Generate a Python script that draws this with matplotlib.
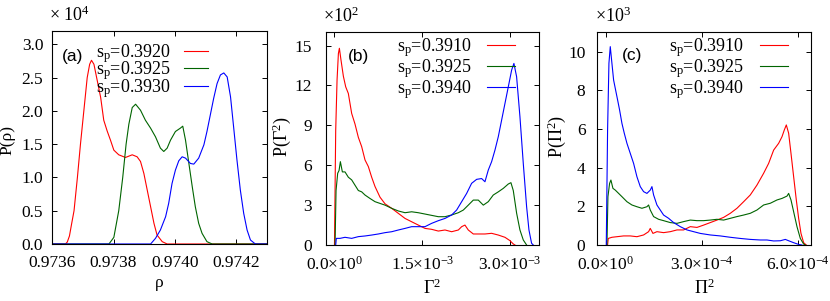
"""
三面板分佈圖: P(rho), P(Gamma^2), P(Pi^2)
"""
import numpy as np
import matplotlib
matplotlib.use('Agg')
import matplotlib.pyplot as plt

plt.rcParams['font.family'] = ['Liberation Serif', 'DejaVu Serif']
plt.rcParams['mathtext.fontset'] = 'custom'
plt.rcParams['mathtext.rm'] = 'Liberation Serif'
plt.rcParams['mathtext.it'] = 'Liberation Serif:italic'
plt.rcParams['mathtext.bf'] = 'Liberation Serif:bold'

RED, GREEN, BLUE = '#ff0000', '#006400', '#0000ff'

# ---- (a) P(rho), y in units of 1e4 ----
rho_labels = ['s$_\\mathrm{p}$=0.3920', 's$_\\mathrm{p}$=0.3925', 's$_\\mathrm{p}$=0.3930']
rho_r = [0.973600, 0.973643, 0.973649, 0.973656, 0.973663, 0.973671, 0.973682, 0.973692,
         0.973703, 0.973714, 0.973722, 0.973728, 0.973736, 0.973747, 0.973758, 0.973768,
         0.973779, 0.973790, 0.973801, 0.973817, 0.973839, 0.973861, 0.973877, 0.973888,
         0.973899, 0.973910, 0.973921, 0.973932, 0.973942, 0.973959, 0.973975, 0.974300]
p_rho_r = [0.0, 0.0, 0.03, 0.12, 0.3, 0.5, 1.0, 1.5, 2.0, 2.5, 2.7, 2.76, 2.70, 2.45,
           2.2, 1.86, 1.70, 1.56, 1.41, 1.34, 1.30, 1.34, 1.31, 1.24, 1.06, 0.81, 0.56,
           0.31, 0.135, 0.035, 0.0, 0.0]
rho_g = [0.973600, 0.973785, 0.973801, 0.973817, 0.973830, 0.973841, 0.973850, 0.973861,
         0.973872, 0.973888, 0.973904, 0.973921, 0.973937, 0.973953, 0.973964, 0.973975,
         0.973986, 0.974002, 0.974018, 0.974026, 0.974035, 0.974046, 0.974057, 0.974067,
         0.974078, 0.974089, 0.974105, 0.974122, 0.974300]
p_rho_g = [0.0, 0.0, 0.1, 0.5, 1.0, 1.5, 1.8, 2.05, 2.10, 2.01, 1.86, 1.74, 1.61, 1.44,
           1.39, 1.44, 1.56, 1.69, 1.74, 1.77, 1.56, 1.21, 0.86, 0.56, 0.31, 0.16, 0.035,
           0.0, 0.0]
rho_b = [0.973600, 0.973921, 0.973937, 0.973953, 0.973970, 0.973980, 0.973991, 0.974002,
         0.974013, 0.974024, 0.974035, 0.974051, 0.974062, 0.974078, 0.974095, 0.974105,
         0.974116, 0.974127, 0.974138, 0.974149, 0.974160, 0.974171, 0.974182, 0.974192,
         0.974203, 0.974214, 0.974225, 0.974236, 0.974247, 0.974263, 0.974300]
p_rho_b = [0.0, 0.0, 0.085, 0.21, 0.41, 0.61, 0.91, 1.11, 1.25, 1.31, 1.29, 1.21, 1.20,
           1.29, 1.49, 1.69, 1.94, 2.19, 2.41, 2.54, 2.57, 2.51, 2.21, 1.76, 1.26, 0.81,
           0.46, 0.21, 0.06, 0.0, 0.0]

# ---- (b) P(Gamma^2), x in units of 1e-3, y in units of 1e2 ----
gam_labels = ['s$_\\mathrm{p}$=0.3910', 's$_\\mathrm{p}$=0.3925', 's$_\\mathrm{p}$=0.3940']
gam_r = [0.0, 0.021, 0.044, 0.067, 0.084, 0.112, 0.152, 0.192, 0.237, 0.294, 0.351, 0.408,
         0.465, 0.522, 0.579, 0.636, 0.693, 0.778, 0.864, 0.978, 1.092, 1.206, 1.319,
         1.433, 1.547, 1.661, 1.775, 1.889, 2.003, 2.117, 2.174, 2.230, 2.287, 2.373,
         2.458, 2.572, 2.686, 2.800, 2.914, 2.999, 3.056, 3.085]
p_gam_r = [0.0, 8.6, 12.4, 14.4, 14.8, 13.9, 12.7, 11.9, 11.4, 9.9, 9.1, 8.1, 7.4, 6.4,
           5.9, 5.1, 4.4, 3.6, 3.1, 2.76, 2.38, 2.0, 1.75, 1.5, 1.25, 1.18, 1.05, 1.13,
           1.0, 1.13, 1.38, 1.5, 1.13, 0.83, 0.83, 0.83, 0.88, 0.75, 0.58, 0.33, 0.08, 0.0]
gam_g = [0.010, 0.027, 0.055, 0.078, 0.101, 0.135, 0.180, 0.237, 0.294, 0.351, 0.408,
         0.465, 0.522, 0.608, 0.693, 0.778, 0.864, 0.978, 1.092, 1.206, 1.319, 1.433,
         1.547, 1.661, 1.775, 1.889, 2.003, 2.117, 2.202, 2.287, 2.373, 2.458, 2.544,
         2.629, 2.714, 2.800, 2.885, 2.971, 3.016, 3.056, 3.113, 3.170, 3.227, 3.284]
p_gam_g = [0.0, 4.1, 5.4, 5.6, 6.27, 5.5, 5.5, 5.1, 4.9, 4.5, 4.1, 4.0, 3.76, 3.5, 3.26,
           3.13, 3.0, 2.76, 2.56, 2.43, 2.5, 2.43, 2.33, 2.23, 2.13, 2.13, 2.26, 2.43,
           2.63, 3.0, 3.38, 3.38, 3.0, 3.26, 3.76, 4.0, 4.26, 4.59, 4.69, 4.1, 2.4, 1.13,
           0.38, 0.0]
gam_b = [0.021, 0.032, 0.095, 0.180, 0.294, 0.408, 0.522, 0.636, 0.750, 0.864, 0.978,
         1.092, 1.206, 1.319, 1.433, 1.547, 1.661, 1.775, 1.889, 2.003, 2.088, 2.174,
         2.259, 2.344, 2.430, 2.515, 2.572, 2.629, 2.686, 2.743, 2.800, 2.857, 2.914,
         2.971, 3.028, 3.067, 3.113, 3.170, 3.227, 3.284, 3.324, 3.369, 3.398]
p_gam_b = [0.0, 0.5, 0.5, 0.58, 0.5, 0.63, 0.68, 0.75, 0.83, 0.93, 1.0, 1.13, 1.25, 1.38,
           1.38, 1.38, 1.63, 1.83, 2.0, 2.26, 2.63, 3.26, 3.88, 4.64, 4.94, 5.0, 4.76,
           5.64, 6.27, 7.14, 8.15, 9.4, 10.65, 11.9, 13.16, 13.66, 12.66, 9.65, 6.14,
           2.88, 1.13, 0.13, 0.0]

# ---- (c) P(Pi^2), x in units of 1e-4, y in units of 1e3 ----
pi_labels = ['s$_\\mathrm{p}$=0.3910', 's$_\\mathrm{p}$=0.3925', 's$_\\mathrm{p}$=0.3940']
pi_r = [0.062, 0.083, 0.198, 0.354, 0.562, 0.770, 0.978, 1.186, 1.342, 1.394, 1.478,
        1.602, 1.810, 2.019, 2.227, 2.435, 2.643, 2.851, 3.059, 3.267, 3.476, 3.684,
        3.892, 4.100, 4.308, 4.516, 4.724, 4.932, 5.088, 5.245, 5.401, 5.505, 5.578,
        5.640, 5.713, 5.786, 5.869, 5.952, 6.025, 6.098, 6.181, 6.264]
p_pi_r = [0.0, 0.34, 0.40, 0.43, 0.47, 0.47, 0.43, 0.52, 0.69, 0.86, 0.60, 0.69, 0.64,
          0.69, 0.78, 0.78, 0.95, 0.91, 1.03, 1.16, 1.29, 1.43, 1.64, 1.90, 2.24, 2.59,
          3.10, 3.71, 4.22, 4.91, 5.26, 5.60, 5.95, 6.21, 5.78, 4.74, 3.53, 2.33, 1.38,
          0.60, 0.12, 0.0]
pi_g = [0.042, 0.073, 0.125, 0.166, 0.229, 0.302, 0.406, 0.510, 0.666, 0.822, 0.978,
        1.134, 1.290, 1.342, 1.394, 1.498, 1.654, 1.810, 2.019, 2.227, 2.435, 2.643,
        2.851, 3.059, 3.267, 3.476, 3.684, 3.892, 4.100, 4.308, 4.516, 4.724, 4.932,
        5.141, 5.349, 5.505, 5.661, 5.713, 5.786, 5.869, 5.973, 6.077, 6.181, 6.233]
p_pi_g = [0.0, 2.5, 3.19, 3.36, 2.93, 2.84, 2.67, 2.5, 2.24, 2.07, 1.98, 1.90, 1.98, 2.07,
          1.81, 1.47, 1.33, 1.26, 1.16, 1.12, 1.21, 1.29, 1.26, 1.26, 1.29, 1.33, 1.29,
          1.38, 1.47, 1.55, 1.64, 1.81, 2.07, 2.16, 2.33, 2.41, 2.53, 2.67, 2.33, 1.72,
          0.95, 0.34, 0.05, 0.0]
pi_b = [0.021, 0.062, 0.104, 0.146, 0.187, 0.250, 0.302, 0.375, 0.437, 0.510, 0.583,
        0.666, 0.770, 0.874, 0.978, 1.082, 1.186, 1.290, 1.394, 1.446, 1.498, 1.602,
        1.706, 1.810, 1.967, 2.123, 2.331, 2.539, 2.747, 2.955, 3.267, 3.580, 3.892,
        4.204, 4.516, 4.828, 5.036, 5.245, 5.453, 5.609, 5.713, 5.869, 6.025, 6.129]
p_pi_b = [0.0, 5.95, 9.4, 10.26, 9.57, 8.53, 8.1, 7.5, 6.98, 6.29, 5.78, 5.26, 4.74,
          4.22, 3.53, 3.02, 2.76, 2.67, 2.84, 3.02, 2.59, 2.07, 1.81, 1.55, 1.38, 1.16,
          0.95, 0.78, 0.69, 0.60, 0.52, 0.47, 0.40, 0.34, 0.29, 0.26, 0.26, 0.21, 0.22,
          0.29, 0.22, 0.12, 0.03, 0.0]

# tick values and labels
rho_xticks = [0.9736, 0.9738, 0.9740, 0.9742]
rho_yticks = [0.0, 0.5, 1.0, 1.5, 2.0, 2.5, 3.0]
gam_xticks = [0.0, 1.5e-3, 3.0e-3]
gam_xticklabels = ['0.0×10$^{0}$', '1.5×10$^{-3}$', '3.0×10$^{-3}$']
gam_yticks = [0, 3, 6, 9, 12, 15]
pi_xticks = [0.0, 3.0e-4, 6.0e-4]
pi_xticklabels = ['0.0×10$^{0}$', '3.0×10$^{-4}$', '6.0×10$^{-4}$']
pi_yticks = [0, 2, 4, 6, 8, 10]

FS = 12.5
LFS = 13


def style_axis(ax, ypad):
    for sp in ax.spines.values():
        sp.set_linewidth(0.8)
    ax.tick_params(direction='in', length=3.5, width=0.7, top=True, right=True,
                   labelsize=FS)
    ax.tick_params(axis='x', pad=8)
    ax.tick_params(axis='y', pad=ypad)


def add_legend(ax, anchor, spacing, hlen, hpad):
    ax.legend(loc='upper right', bbox_to_anchor=anchor, frameon=False,
              markerfirst=False, fontsize=LFS, handlelength=hlen,
              handletextpad=hpad, labelspacing=spacing, borderpad=0,
              borderaxespad=0)


fig = plt.figure(figsize=(8.3, 3.01), dpi=100)
ax1 = fig.add_axes([0.0630, 0.1894, 0.2583, 0.7076])
ax2 = fig.add_axes([0.3924, 0.1860, 0.2573, 0.7066])
ax3 = fig.add_axes([0.7196, 0.1860, 0.2571, 0.7066])

# 面板 (a)
for x, y, c, lab in zip([rho_r, rho_g, rho_b], [p_rho_r, p_rho_g, p_rho_b],
                        [RED, GREEN, BLUE], rho_labels):
    ax1.plot(x, y, color=c, linewidth=0.8, label=lab)
ax1.set_xlim(0.9736, 0.9743)
ax1.set_ylim(0, 3.2)
ax1.set_xticks(rho_xticks)
ax1.set_xticklabels([f'{v:.4f}' for v in rho_xticks])
ax1.set_yticks(rho_yticks)
ax1.set_yticklabels([f'{v:.1f}' for v in rho_yticks])
style_axis(ax1, 6.5)
ax1.set_xlabel('ρ', fontsize=FS, labelpad=3)
ax1.set_ylabel('P(ρ)', fontsize=FS)
ax1.yaxis.set_label_coords(-0.172, 0.49)
ax1.text(-0.014, 1.075, '× 10$^{4}$', transform=ax1.transAxes, fontsize=LFS,
         va='center', ha='left')
ax1.text(0.045, 0.879, '(a)', transform=ax1.transAxes, fontsize=12.5,
         family='Liberation Sans', va='center')
add_legend(ax1, (0.726, 0.95), -0.28, 1.35, 0.7)

# 面板 (b)
for x, y, c, lab in zip([gam_r, gam_g, gam_b], [p_gam_r, p_gam_g, p_gam_b],
                        [RED, GREEN, BLUE], gam_labels):
    ax2.plot(np.array(x) * 1e-3, y, color=c, linewidth=0.8, label=lab)
ax2.set_xlim(-1.5e-4, 3.5e-3)
ax2.set_ylim(0, 16)
ax2.set_xticks(gam_xticks)
ax2.set_xticklabels(gam_xticklabels)
ax2.set_yticks(gam_yticks)
style_axis(ax2, 10)
ax2.set_xlabel('Γ$^2$', fontsize=LFS, labelpad=3)
ax2.set_ylabel('P(Γ$^2$)', fontsize=LFS)
ax2.yaxis.set_label_coords(-0.153, 0.51)
ax2.text(-0.014, 1.075, '×10$^{2}$', transform=ax2.transAxes, fontsize=LFS,
         va='center', ha='left')
ax2.text(0.106, 0.885, '(b)', transform=ax2.transAxes, fontsize=12.5,
         family='Liberation Sans', va='center')
add_legend(ax2, (0.886, 0.98), -0.12, 1.55, 0.85)

# 面板 (c)
for x, y, c, lab in zip([pi_r, pi_g, pi_b], [p_pi_r, p_pi_g, p_pi_b],
                        [RED, GREEN, BLUE], pi_labels):
    ax3.plot(np.array(x) * 1e-4, y, color=c, linewidth=0.8, label=lab)
ax3.set_xlim(-2.6e-5, 6.4e-4)
ax3.set_ylim(0, 11)
ax3.set_xticks(pi_xticks)
ax3.set_xticklabels(pi_xticklabels)
ax3.set_yticks(pi_yticks)
style_axis(ax3, 8.5)
ax3.set_xlabel('Π$^2$', fontsize=LFS, labelpad=3)
ax3.set_ylabel('P(Π$^2$)', fontsize=LFS)
ax3.yaxis.set_label_coords(-0.137, 0.51)
ax3.text(-0.011, 1.075, '×10$^{3}$', transform=ax3.transAxes, fontsize=LFS,
         va='center', ha='left')
ax3.text(0.116, 0.893, '(c)', transform=ax3.transAxes, fontsize=12.5,
         family='Liberation Sans', va='center')
add_legend(ax3, (0.892, 0.98), -0.12, 1.55, 0.85)

fig.savefig('out.png', dpi=100)
